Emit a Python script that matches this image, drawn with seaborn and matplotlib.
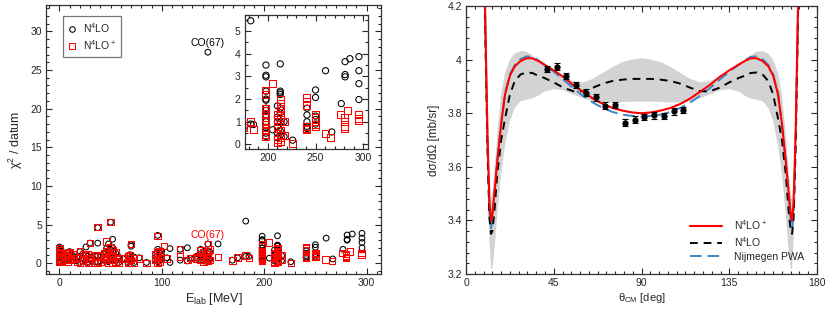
import matplotlib
matplotlib.use("Agg")
import matplotlib.pyplot as plt
from matplotlib.lines import Line2D
from matplotlib.ticker import MultipleLocator, FormatStrFormatter
import seaborn as sns
import pandas as pd

# ---- left panel: chi2 per datum vs lab energy, grouped by energy ----
n4lo_groups = [
    (0, [2.1, 1.8, 1.5, 1.2, 0.9, 0.6, 0.3, 0.1]), (2, [1.6, 1.0, 0.5]),
    (5, [1.2, 0.7, 0.3]), (8, [1.4, 0.9, 0.4]), (10, [1.5, 1.1, 0.6]),
    (13, [1.0, 0.5]), (17, [0.8, 0.3]), (20, [1.5, 0.9, 0.1]), (23, [1.2, 0.6]),
    (26, [2.1, 1.0, 0.4]), (28, [0.9, 0.1]), (30, [2.6, 0.7]), (35, [0.9, 0.2]),
    (37.5, [4.6, 2.6, 1.0, 0.1]), (40, [0.8, 0.3]), (44, [1.2, 0.6]),
    (46, [1.9, 1.4, 0.5]), (48, [2.5, 1.1, 0.2]), (50, [5.3, 1.8, 0.9, 0.4]),
    (52, [3.1, 2.0, 1.5, 0.7]), (55, [1.3, 0.3]), (58, [0.8, 0.1]), (62, [0.6]),
    (67, [1.0, 0.4, 0.1]), (69, [1.1, 0.7]), (70, [2.4, 2.2, 0.5]), (73, [0.8, 0.1]),
    (78, [0.7]), (85, [0.1]), (94, [1.2, 0.4]), (96, [3.6, 1.8, 1.0, 0.6, 0.2]),
    (98, [1.4, 0.8, 0.3]), (100, [1.6, 1.0]), (105, [0.7]), (108, [1.9, 0.1]),
    (118, [1.8, 0.4]), (125, [2.0, 0.3]), (128, [0.6]), (134, [0.9, 0.5]),
    (138, [1.8, 1.2, 0.4]), (141, [1.5, 0.9, 0.3]), (143, [1.0, 0.6]),
    (145, [27.3, 2.5, 1.6, 0.8, 0.2]), (147, [1.4, 0.5]), (155, [2.5]),
    (169, [0.4]), (174, [0.7]), (182, [5.45, 0.9]), (185, [0.88]),
    (198, [3.5, 3.05, 2.98, 2.35, 2.0, 1.95, 1.6, 1.5, 1.3, 1.0, 0.75, 0.5, 0.35]),
    (205, [0.65]), (210, [1.7, 1.2, 1.0, 0.8, 0.5, 0.3]),
    (213, [3.55, 2.35, 2.28, 2.2, 1.6, 1.4, 1.0, 0.6, 0.4]), (217, [1.0, 0.35]),
    (226, [0.19]), (241, [1.6, 1.3, 1.0, 0.8, 0.7]), (250, [2.4, 2.07, 1.25, 1.1, 0.9]),
    (260.5, [3.25]), (267, [0.55]), (277, [1.8]), (281, [3.65, 3.08, 2.98]),
    (286, [3.78]), (295.5, [3.87, 3.25, 2.68, 1.98]),
]
n4lop_groups = [
    (0, [2.0, 1.7, 1.4, 1.1, 0.8, 0.5, 0.2]), (2, [1.3, 0.7, 0.3]), (5, [1.0, 0.5]),
    (8, [1.3, 0.8, 0.2]), (10, [1.4, 0.9, 0.4]), (13, [1.1, 0.6]), (17, [0.7, 0.2]),
    (20, [1.6, 0.8, 0.0]), (23, [1.2, 0.5]), (26, [1.0, 0.3]), (28, [1.1, 0.0]),
    (30, [2.6, 0.6]), (35, [1.0, 0.1]), (37.5, [4.7, 1.0, 0.0]), (40, [0.9, 0.2]),
    (44, [1.3, 0.7]), (46, [2.8, 1.5, 0.4]), (48, [1.2, 0.1]), (50, [5.35, 2.1, 1.0, 0.5]),
    (52, [1.7, 0.8, 0.0]), (55, [1.4, 0.2]), (58, [0.7, 0.1]), (62, [0.6]),
    (67, [0.9, 0.3, 0.0]), (69, [1.0, 0.6]), (70, [2.5, 0.4]), (73, [0.7, 0.1]),
    (78, [0.6]), (85, [0.05]), (94, [1.2, 0.4]), (96, [3.5, 1.4, 0.9, 0.5, 0.1]),
    (98, [1.5, 0.7, 0.2]), (102, [2.2]), (105, [0.6]), (118, [1.8, 0.9]),
    (125, [0.4]), (128, [0.7]), (134, [0.8, 0.6]), (138, [1.7, 1.1, 0.5]),
    (141, [1.4, 0.8, 0.2]), (143, [1.1, 0.6]), (145, [2.45, 1.6, 1.2, 0.7, 0.3]),
    (147, [1.8, 0.4]), (155, [0.8]), (169, [0.35]), (174, [0.75]), (182, [1.0]),
    (185, [0.65]),
    (198, [2.4, 2.2, 1.6, 1.5, 1.35, 1.2, 1.0, 0.9, 0.75, 0.6, 0.45, 0.35]),
    (204.5, [2.7]), (210, [1.3, 1.1, 0.8, 0.7, 0.2, 0.1]),
    (213, [2.0, 1.8, 1.6, 1.4, 1.2, 1.0, 0.6, 0.3, 0.15]), (217, [1.0, 0.4]),
    (226, [0.05]), (241, [2.05, 1.9, 1.7, 0.8, 0.7, 0.65]), (250, [1.3, 1.2, 1.0, 0.9, 0.8]),
    (260, [0.5]), (266, [0.3]), (276, [1.3]), (280, [1.2, 1.0, 0.8, 0.7]), (284, [1.5]),
    (295, [1.3, 1.15, 1.05]),
]

# ---- right panel: pp differential cross section ----
theta = [8, 9, 10, 11, 12, 12.8, 13.5, 14.5, 16, 18, 20, 22.5, 25, 28, 31, 34, 37, 40,
         45, 50, 55, 60, 65, 70, 75, 80, 85, 90, 95, 100, 105, 110, 115, 120, 125,
         130, 135, 140, 143, 146, 149, 152, 155, 157.5, 160, 162, 164, 165.5, 166.5,
         167.2, 168, 169, 170, 171, 172]
n4lop = [5.0, 4.55, 4.10, 3.72, 3.47, 3.40, 3.42, 3.50, 3.62, 3.76, 3.87, 3.94, 3.975,
         3.995, 4.005, 4.005, 3.995, 3.982, 3.96, 3.935, 3.905, 3.88, 3.855, 3.835,
         3.82, 3.81, 3.803, 3.80, 3.803, 3.81, 3.82, 3.835, 3.855, 3.88, 3.905, 3.935,
         3.96, 3.982, 3.995, 4.005, 4.005, 3.995, 3.975, 3.94, 3.87, 3.76, 3.62, 3.50,
         3.42, 3.40, 3.47, 3.72, 4.10, 4.55, 5.0]
n4lo = [5.0, 4.50, 4.05, 3.66, 3.41, 3.35, 3.36, 3.43, 3.57, 3.70, 3.78, 3.87, 3.92,
        3.945, 3.952, 3.95, 3.94, 3.932, 3.915, 3.895, 3.882, 3.882, 3.895, 3.91,
        3.92, 3.925, 3.928, 3.928, 3.928, 3.925, 3.92, 3.91, 3.895, 3.882, 3.882,
        3.895, 3.915, 3.932, 3.94, 3.95, 3.952, 3.945, 3.92, 3.87, 3.78, 3.70, 3.57,
        3.43, 3.36, 3.35, 3.41, 3.66, 4.05, 4.50, 5.0]
nijm = [5.0, 4.53, 4.08, 3.69, 3.43, 3.37, 3.40, 3.49, 3.62, 3.76, 3.875, 3.945, 3.98,
        4.002, 4.012, 4.01, 3.998, 3.982, 3.955, 3.925, 3.893, 3.865, 3.84, 3.82,
        3.805, 3.795, 3.79, 3.788, 3.79, 3.795, 3.805, 3.82, 3.84, 3.865, 3.893, 3.925,
        3.955, 3.982, 3.998, 4.01, 4.012, 4.002, 3.98, 3.945, 3.875, 3.76, 3.62, 3.49,
        3.40, 3.37, 3.43, 3.69, 4.08, 4.53, 5.0]
band_lo = [5.0, 4.45, 3.98, 3.58, 3.33, 3.22, 3.22, 3.28, 3.42, 3.57, 3.68, 3.77, 3.82,
           3.845, 3.85, 3.855, 3.865, 3.88, 3.89, 3.885, 3.87, 3.855, 3.845, 3.84,
           3.84, 3.842, 3.843, 3.843, 3.843, 3.842, 3.84, 3.84, 3.845, 3.855, 3.87,
           3.885, 3.89, 3.88, 3.865, 3.855, 3.85, 3.845, 3.82, 3.77, 3.68, 3.57, 3.42,
           3.28, 3.22, 3.22, 3.33, 3.58, 3.98, 4.45, 5.0]
band_hi = [5.0, 4.62, 4.18, 3.80, 3.55, 3.48, 3.50, 3.58, 3.72, 3.87, 3.95, 4.0, 4.022,
           4.032, 4.03, 4.015, 3.997, 3.978, 3.955, 3.935, 3.92, 3.915, 3.928, 3.95,
           3.972, 3.99, 4.0, 4.005, 4.0, 3.99, 3.972, 3.95, 3.928, 3.915, 3.92, 3.935,
           3.955, 3.978, 3.997, 4.015, 4.03, 4.032, 4.022, 4.0, 3.95, 3.87, 3.72, 3.58,
           3.50, 3.48, 3.55, 3.80, 4.18, 4.62, 5.0]
exp_theta = [41.5, 46.5, 51.5, 56.5, 61.5, 66.5, 71.5, 76.5, 81.5, 86.5, 91.5, 96.5,
             101.5, 106.5, 111.5]
exp_xs = [3.964, 3.974, 3.939, 3.905, 3.877, 3.859, 3.828, 3.830, 3.765, 3.776, 3.785,
          3.792, 3.790, 3.807, 3.812]
exp_err = [0.012] * len(exp_xs)


def expand(groups):
    rows = [(e, c) for e, vals in groups for c in vals]
    return pd.DataFrame(rows, columns=["elab", "chi2"])


sns.set_style("ticks")
plt.rcParams["font.family"] = ["Liberation Sans", "DejaVu Sans"]
plt.rcParams["mathtext.fontset"] = "custom"
plt.rcParams["mathtext.rm"] = "Liberation Sans"
plt.rcParams["mathtext.default"] = "regular"
plt.rcParams["axes.linewidth"] = 0.9

df_n4lo = expand(n4lo_groups)
df_n4lop = expand(n4lop_groups)

fig = plt.figure(figsize=(8.31, 3.15), dpi=100)
ax1 = fig.add_axes([0.0554, 0.130, 0.403, 0.854])
ins = fig.add_axes([0.2948, 0.527, 0.148, 0.425])
ax2 = fig.add_axes([0.5608, 0.130, 0.4224, 0.851])


def style_ticks(ax, xmaj, xmin, ymaj, ymin, size=7.5):
    ax.xaxis.set_major_locator(MultipleLocator(xmaj))
    ax.xaxis.set_minor_locator(MultipleLocator(xmin))
    ax.yaxis.set_major_locator(MultipleLocator(ymaj))
    ax.yaxis.set_minor_locator(MultipleLocator(ymin))
    ax.tick_params(which="both", direction="in", top=True, right=True,
                   labelsize=size, width=0.8, pad=3)
    ax.tick_params(which="major", length=4)
    ax.tick_params(which="minor", length=2)
    for s in ax.spines.values():
        s.set_visible(True)
        s.set_color("#333333")


for ax, sz in ((ax1, 17), (ins, 20)):
    sns.scatterplot(data=df_n4lo, x="elab", y="chi2", ax=ax, marker="o", s=sz,
                    facecolor="none", edgecolor="black", linewidth=0.75, legend=False)
    sns.scatterplot(data=df_n4lop, x="elab", y="chi2", ax=ax, marker="s", s=sz + 5,
                    facecolor="none", edgecolor="red", linewidth=0.75, legend=False)

ax1.set_xlim(-13, 314)
ax1.set_ylim(-1.4, 33.4)
style_ticks(ax1, 100, 10, 5, 1)
ax1.set_xlabel("E$_{lab}$ [MeV]", fontsize=9, labelpad=2)
ax1.set_ylabel("χ$^2$ / datum", fontsize=9, labelpad=4)
ax1.text(144.4, 28.5, "CO(67)", fontsize=7.5, ha="center", va="center", color="black")
ax1.text(144.7, 3.6, "CO(67)", fontsize=7.5, ha="center", va="center", color="red")
h1 = [Line2D([], [], ls="none", marker="o", markersize=4, color="black",
             markerfacecolor="none", markeredgecolor="black", markeredgewidth=0.75),
      Line2D([], [], ls="none", marker="s", markersize=4.5, color="red",
             markerfacecolor="none", markeredgecolor="red", markeredgewidth=0.75)]
leg = ax1.legend(h1, ["N$^4$LO", "N$^4$LO$^+$"], loc="upper left", fontsize=7.5,
                 frameon=True, fancybox=False, edgecolor="#555555", handlelength=0.8,
                 handletextpad=0.6, borderpad=0.5, labelspacing=0.35,
                 bbox_to_anchor=(0.035, 0.98))
leg.get_frame().set_linewidth(0.9)

ins.set_xlim(176, 305)
ins.set_ylim(-0.2, 5.7)
style_ticks(ins, 50, 10, 1, 0.5)
ins.set_xlabel("")
ins.set_ylabel("")

# right panel
ax2.fill_between(theta, band_lo, band_hi, color="#d3d3d3", lw=0)
sns.lineplot(x=theta, y=nijm, ax=ax2, color="#3b86c6", lw=1.4, dashes=False,
             estimator=None, sort=False).lines[-1].set_dashes([6, 3])
sns.lineplot(x=theta, y=n4lo, ax=ax2, color="black", lw=1.4, estimator=None,
             sort=False).lines[-1].set_dashes([4, 3])
sns.lineplot(x=theta, y=n4lop, ax=ax2, color="red", lw=1.5, estimator=None, sort=False)
ax2.errorbar(exp_theta, exp_xs, yerr=exp_err, fmt="o", color="black", ms=3.5,
             elinewidth=0.8, capsize=2.5, capthick=0.8, zorder=5)
ax2.set_xlim(0, 180)
ax2.set_ylim(3.2, 4.2)
style_ticks(ax2, 45, 4.5, 0.2, 0.04)
ax2.yaxis.set_major_formatter(FormatStrFormatter("%g"))
ax2.set_xlabel("θ$_{CM}$ [deg]", fontsize=8, labelpad=2)
ax2.set_ylabel("dσ/dΩ [mb/sr]", fontsize=8.5, labelpad=5)
h2 = [Line2D([], [], color="red", lw=1.5),
      Line2D([], [], color="black", lw=1.4, dashes=[4, 3]),
      Line2D([], [], color="#3b86c6", lw=1.4, dashes=[6, 3])]
ax2.legend(h2, ["N$^4$LO$^+$", "N$^4$LO", "Nijmegen PWA"], loc="lower right",
           fontsize=7.5, frameon=False, handlelength=3, handletextpad=1.2,
           labelspacing=0.3, bbox_to_anchor=(0.99, 0.01))

fig.savefig("out.png", dpi=100)
